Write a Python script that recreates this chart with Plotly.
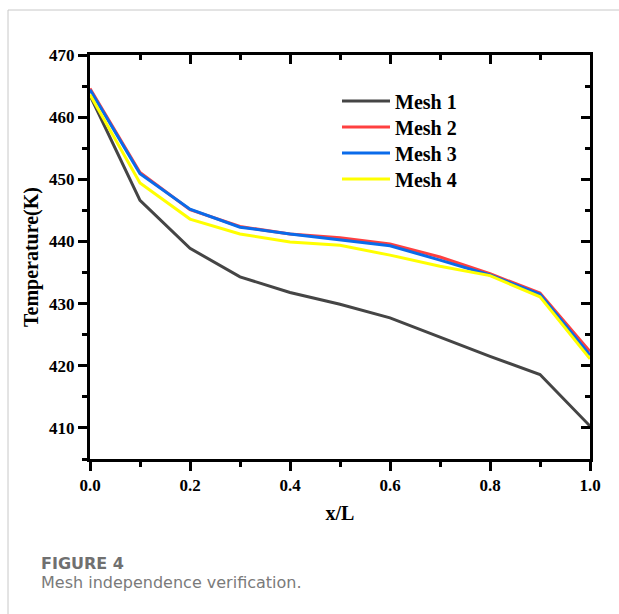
import plotly.graph_objects as go

x_pos = [0.0, 0.1, 0.2, 0.3, 0.4, 0.5, 0.6, 0.7, 0.8, 0.9, 1.0]
mesh1 = [463.5, 446.6, 438.9, 434.3, 431.8, 429.9, 427.7, 424.6, 421.5, 418.6, 410.3]
mesh2 = [464.6, 451.1, 445.1, 442.4, 441.2, 440.6, 439.6, 437.5, 434.8, 431.7, 422.3]
mesh3 = [464.4, 450.9, 445.2, 442.3, 441.2, 440.3, 439.3, 437.0, 434.6, 431.5, 421.7]
mesh4 = [463.6, 449.4, 443.6, 441.2, 439.9, 439.4, 437.8, 436.0, 434.5, 431.1, 421.1]
series_names = ["Mesh 1", "Mesh 2", "Mesh 3", "Mesh 4"]
series_colors = ["#454545", "#FF4040", "#0A6BEA", "#FFFF00"]
x_ticks = [0.0, 0.2, 0.4, 0.6, 0.8, 1.0]
y_ticks = [410, 420, 430, 440, 450, 460, 470]

SERIF = "Liberation Serif"
L, R, T, B = 90, 29, 55, 155
W, H = 619, 614
pw, ph = float(W - L - R), float(H - T - B)

def px_x(px):
    return (px - L) / pw

def px_y(py):
    return (H - B - py) / ph

legend_ids = ["legend", "legend2", "legend3", "legend4"]
legend_rows = [101, 127, 153, 179]

fig = go.Figure()
for name, ys, col, lid in zip(series_names, [mesh1, mesh2, mesh3, mesh4], series_colors, legend_ids):
    fig.add_trace(go.Scatter(x=x_pos, y=ys, mode="lines", name=name,
                             line=dict(color=col, width=3), legend=lid))

# invisible trace for mirrored (inside) tick axes
fig.add_trace(go.Scatter(x=x_pos, y=mesh1, xaxis="x2", yaxis="y2", mode="lines",
                         line=dict(color="rgba(0,0,0,0)"), showlegend=False, hoverinfo="skip"))

legend_layout = {}
for lid, row in zip(legend_ids, legend_rows):
    legend_layout[lid] = dict(x=px_x(337), y=px_y(row), xanchor="left", yanchor="middle",
                              font=dict(family=SERIF, size=20, color="black", weight="bold"),
                              bgcolor="rgba(0,0,0,0)", itemwidth=48, borderwidth=0)

tickfont = dict(family=SERIF, size=17, color="black", weight="bold")
common = dict(ticklen=9, tickwidth=2.5, tickcolor="black", showline=True, linecolor="black",
              linewidth=3, showgrid=False, zeroline=False)
fig.update_layout(
    width=W, height=H,
    margin=dict(l=L, r=R, t=T, b=B),
    paper_bgcolor="white", plot_bgcolor="white",
    showlegend=True,
    **legend_layout,
    xaxis=dict(range=[0, 1], tickvals=x_ticks, tickformat=".1f", ticks="outside",
               tickfont=tickfont, **common,
               minor=dict(ticks="outside", ticklen=5, tickwidth=2.5, tickcolor="black", dtick=0.1, tick0=0, showgrid=False),
               title=dict(text="x/L", font=dict(family=SERIF, size=20, color="black", weight="bold"), standoff=12)),
    yaxis=dict(range=[405, 470], tickvals=y_ticks, ticks="outside",
               tickfont=tickfont, **common,
               minor=dict(ticks="outside", ticklen=5, tickwidth=2.5, tickcolor="black", dtick=5, tick0=405, showgrid=False),
               title=dict(text="Temperature(K)", font=dict(family=SERIF, size=20, color="black", weight="bold"), standoff=6)),
    xaxis2=dict(range=[0, 1], overlaying="x", side="top", anchor="y2", tickvals=x_ticks, ticks="inside",
                showticklabels=False, **common,
                minor=dict(ticks="inside", ticklen=5, tickwidth=2.5, tickcolor="black", dtick=0.1, tick0=0, showgrid=False)),
    yaxis2=dict(range=[405, 470], overlaying="y", side="right", anchor="x2", tickvals=y_ticks, ticks="inside",
                showticklabels=False, **common,
                minor=dict(ticks="inside", ticklen=5, tickwidth=2.5, tickcolor="black", dtick=5, tick0=405, showgrid=False)),
)

# card frame
fig.add_shape(type="line", xref="paper", yref="paper", x0=px_x(8), x1=px_x(630), y0=px_y(10), y1=px_y(10),
              line=dict(color="#c8c8c8", width=1))
fig.add_shape(type="line", xref="paper", yref="paper", x0=px_x(8), x1=px_x(8), y0=px_y(10), y1=px_y(630),
              line=dict(color="#c8c8c8", width=1))

# caption
fig.add_annotation(text="FIGURE 4", xref="paper", yref="paper", x=px_x(39), y=px_y(563),
                   xanchor="left", yanchor="middle", showarrow=False,
                   font=dict(family="DejaVu Sans", size=16, color="#707070", weight="bold"))
fig.add_annotation(text="Mesh independence verification.", xref="paper", yref="paper",
                   x=px_x(39), y=px_y(582),
                   xanchor="left", yanchor="middle", showarrow=False,
                   font=dict(family="DejaVu Sans", size=16, color="#7a7a7a"))

fig.write_html("out.html")
